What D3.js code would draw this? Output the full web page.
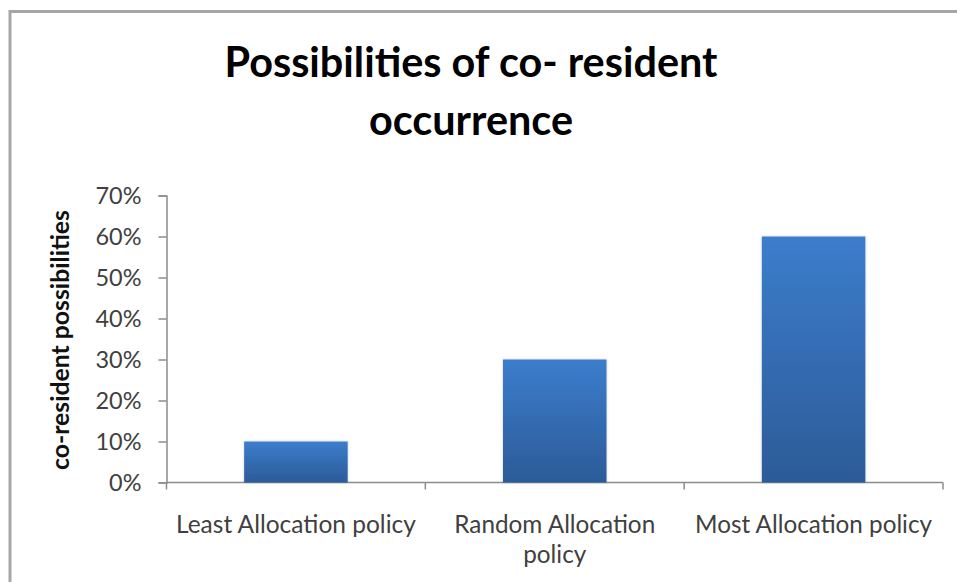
<!DOCTYPE html>
<html>
<head>
<meta charset="utf-8">
<script src="https://cdn.jsdelivr.net/npm/d3@7"></script>
<style>
  html, body { margin: 0; padding: 0; background: #fff; }
  svg { display: block; }
  text { font-family: Lato, "Open Sans", "DejaVu Sans", sans-serif; }
</style>
</head>
<body>
<svg id="chart" width="957" height="582"></svg>
<script>
// Chart data
const categories = ["Least Allocation policy", "Random Allocation policy", "Most Allocation policy"];
const categoryLines = [["Least Allocation policy"], ["Random Allocation", "policy"], ["Most Allocation policy"]];
const values = [0.10, 0.30, 0.60];
const yTicks = [0, 0.1, 0.2, 0.3, 0.4, 0.5, 0.6, 0.7];
const titleLines = ["Possibilities of co- resident", "occurrence"];
const yLabel = "co-resident possibilities";

const svg = d3.select("#chart");
const W = 957, H = 582;

// Scale a text node's font size so it spans the given width; returns the factor
function fitWidth(sel, width) {
  const w = sel.node().getComputedTextLength();
  const fs = parseFloat(sel.attr("font-size"));
  const k = width / w;
  sel.attr("font-size", (fs * k).toFixed(2));
  return k;
}

// chart frame (soft gray border on top and left)
const defs = svg.append("defs");
const soft = defs.append("filter").attr("id", "soft").attr("x", "-5%").attr("y", "-5%").attr("width", "110%").attr("height", "110%");
soft.append("feGaussianBlur").attr("stdDeviation", 0.7);
svg.append("path")
  .attr("d", `M10,${H} L10,11.5 L${W},11.5`)
  .attr("fill", "none").attr("stroke", "#a6a6a6").attr("stroke-width", 3)
  .attr("filter", "url(#soft)");

const plot = { left: 166.5, right: 943, top: 195.5, bottom: 482.5 };

const x = d3.scaleBand().domain(categories).range([plot.left, plot.right]).padding(0);
const y = d3.scaleLinear().domain([0, 0.7]).range([plot.bottom, plot.top]);

// bar fill gradient and glow
const grad = defs.append("linearGradient").attr("id", "barGrad")
  .attr("x1", 0).attr("y1", 0).attr("x2", 0).attr("y2", 1);
grad.append("stop").attr("offset", "0%").attr("stop-color", "#3c7dcc");
grad.append("stop").attr("offset", "100%").attr("stop-color", "#2c5b98");
const glow = defs.append("filter").attr("id", "glow").attr("x", "-20%").attr("y", "-20%").attr("width", "140%").attr("height", "140%");
glow.append("feGaussianBlur").attr("in", "SourceAlpha").attr("stdDeviation", 1.5).attr("result", "b");
glow.append("feFlood").attr("flood-color", "#000").attr("flood-opacity", 0.18);
glow.append("feComposite").attr("in2", "b").attr("operator", "in").attr("result", "s");
const fm = glow.append("feMerge");
fm.append("feMergeNode").attr("in", "s");
fm.append("feMergeNode").attr("in", "SourceGraphic");

// y axis
const yAxis = svg.append("g")
  .attr("transform", `translate(${plot.left},0)`)
  .call(d3.axisLeft(y).tickValues(yTicks).tickFormat(d3.format(".0%")).tickSize(8).tickPadding(17));
yAxis.select(".domain").attr("stroke", "#8c8c8c").attr("stroke-width", 1.5);
yAxis.selectAll(".tick line").attr("stroke", "#8c8c8c").attr("stroke-width", 1.5);
const tickTexts = yAxis.selectAll(".tick text")
  .attr("font-size", 19.5).attr("fill", "#404040")
  .attr("font-family", "Lato, 'Open Sans', sans-serif");
// size all tick labels so the widest one ("70%") spans 46px
const topTick = tickTexts.filter(d => d === 0.7);
tickTexts.attr("font-size", (19.5 * 46 / topTick.node().getComputedTextLength()).toFixed(2));

// x axis
const xAxis = svg.append("g")
  .attr("transform", `translate(0,${plot.bottom})`)
  .call(d3.axisBottom(x).tickSize(0).tickFormat(""));
xAxis.select(".domain").attr("stroke", "#8c8c8c").attr("stroke-width", 1.5)
  .attr("d", `M${plot.left},0H${plot.right}`);
xAxis.selectAll(".tick").remove();
const boundaries = categories.map(c => x(c)).concat([x.range()[1]]);
xAxis.selectAll(".sep").data(boundaries).join("line").attr("class", "sep")
  .attr("x1", d => d).attr("x2", d => d).attr("y1", 0).attr("y2", 7)
  .attr("stroke", "#8c8c8c").attr("stroke-width", 1.5);

// bars
const barW = x.bandwidth() * 0.4;
svg.append("g").selectAll("rect").data(values).join("rect")
  .attr("x", (d, i) => x(categories[i]) + (x.bandwidth() - barW) / 2)
  .attr("y", d => y(d))
  .attr("width", barW)
  .attr("height", d => y(0) - y(d))
  .attr("fill", "url(#barGrad)")
  .attr("filter", "url(#glow)");

// category labels (first line width sets the size for the group)
const labelWidths = [240, 201, 237];
const labelG = svg.append("g");
categoryLines.forEach((lines, i) => {
  const cx = x(categories[i]) + x.bandwidth() / 2;
  let k = 1;
  lines.forEach((ln, j) => {
    const t = labelG.append("text")
      .attr("x", cx).attr("y", 533 + j * 30)
      .attr("text-anchor", "middle")
      .attr("font-size", 20.5).attr("fill", "#404040")
      .text(ln);
    if (j === 0) k = fitWidth(t, labelWidths[i]);
    else t.attr("font-size", (20.5 * k).toFixed(2));
  });
});

// y-axis title
const yt = svg.append("text")
  .attr("transform", "translate(69,340) rotate(-90)")
  .attr("text-anchor", "middle")
  .attr("font-size", 18).attr("font-weight", "bold").attr("fill", "#111")
  .text(yLabel);
fitWidth(yt, 260);

// chart title
const titleWidths = [493, 204];
titleLines.forEach((t, i) => {
  const tt = svg.append("text")
    .attr("x", 471).attr("y", 77 + i * 58)
    .attr("text-anchor", "middle")
    .attr("font-size", 40).attr("font-weight", "bold").attr("fill", "#000")
    .text(t);
  fitWidth(tt, titleWidths[i]);
});
</script>
</body>
</html>
